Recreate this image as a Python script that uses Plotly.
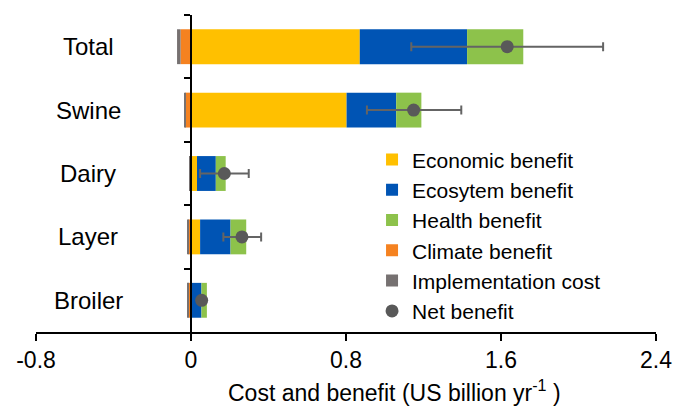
import plotly.graph_objects as go

# Livestock sectors (top to bottom)
sectors = ["Total", "Swine", "Dairy", "Layer", "Broiler"]

# Benefit and cost components, US billion per year
economic = [0.871, 0.803, 0.031, 0.047, 0.004]
ecosystem = [0.554, 0.256, 0.097, 0.157, 0.050]
health = [0.290, 0.130, 0.051, 0.081, 0.028]
climate = [-0.054, -0.030, -0.004, -0.014, -0.012]
implementation = [-0.018, -0.005, -0.003, -0.002, -0.005]

# Net benefit with its uncertainty range
net_benefit = [1.632, 1.149, 0.172, 0.263, 0.055]
net_low = [1.137, 0.908, 0.047, 0.167, 0.042]
net_high = [2.127, 1.395, 0.298, 0.362, 0.068]

x_ticks = [-0.8, 0, 0.8, 1.6, 2.4]
x_tick_text = ["-0.8", "0", "0.8", "1.6", "2.4"]

FONT = "Liberation Sans, Arial, sans-serif"

components = [
    ("Economic benefit", economic, "#FFC000"),
    ("Ecosytem benefit", ecosystem, "#0054B4"),
    ("Health benefit", health, "#8DC24B"),
    ("Climate benefit", climate, "#F58220"),
    ("Implementation cost", implementation, "#767171"),
]

fig = go.Figure()
for name, vals, color in components:
    fig.add_trace(go.Bar(
        y=sectors, x=vals, name=name, orientation="h",
        marker=dict(color=color, line=dict(width=0)),
        width=0.55,
    ))

fig.add_trace(go.Scatter(
    y=sectors, x=net_benefit, name="Net benefit", mode="markers",
    marker=dict(color="#595959", size=13, symbol="circle"),
    error_x=dict(
        type="data", symmetric=False,
        array=[h - n for h, n in zip(net_high, net_benefit)],
        arrayminus=[n - l for n, l in zip(net_benefit, net_low)],
        color="#646464", thickness=2, width=4.5,
    ),
))

# Sector names centred in the space left of the zero line
for s in sectors:
    fig.add_annotation(
        x=-0.53, y=s, xref="x", yref="y", text=s, showarrow=False,
        xanchor="center", yanchor="middle",
        font=dict(family=FONT, size=24, color="#000000"),
    )

fig.add_annotation(
    x=0.579, y=-0.186, xref="paper", yref="paper",
    text="Cost and benefit (US billion yr<sup>-1</sup> )",
    showarrow=False, xanchor="center", yanchor="middle",
    font=dict(family=FONT, size=23, color="#000000"),
)

fig.update_layout(
    width=676, height=407,
    margin=dict(l=36, r=20, t=15, b=75),
    barmode="relative",
    paper_bgcolor="white", plot_bgcolor="white",
    font=dict(family=FONT, size=22, color="#000000"),
    showlegend=True,
    legend=dict(
        x=0.542, y=0.608, xanchor="left", yanchor="top",
        bgcolor="rgba(0,0,0,0)", traceorder="normal",
        font=dict(family=FONT, size=21, color="#000000"),
        itemwidth=30, tracegroupgap=0,
    ),
    xaxis=dict(
        range=[-0.8, 2.4], tickvals=x_ticks, ticktext=x_tick_text,
        showline=True, linecolor="#000000", linewidth=1.5,
        ticks="outside", ticklen=7, tickcolor="#000000", tickwidth=1.5,
        showgrid=False, zeroline=False, automargin=False,
        tickfont=dict(family=FONT, size=23, color="#000000"),
    ),
    yaxis=dict(
        categoryorder="array", categoryarray=sectors, autorange="reversed",
        anchor="free", position=0.25, automargin=False,
        showline=True, linecolor="#000000", linewidth=2,
        ticks="outside", ticklen=6, tickcolor="#000000", tickwidth=1.5,
        tickson="boundaries", showticklabels=False, showgrid=False,
    ),
)

fig.write_html("out.html")
